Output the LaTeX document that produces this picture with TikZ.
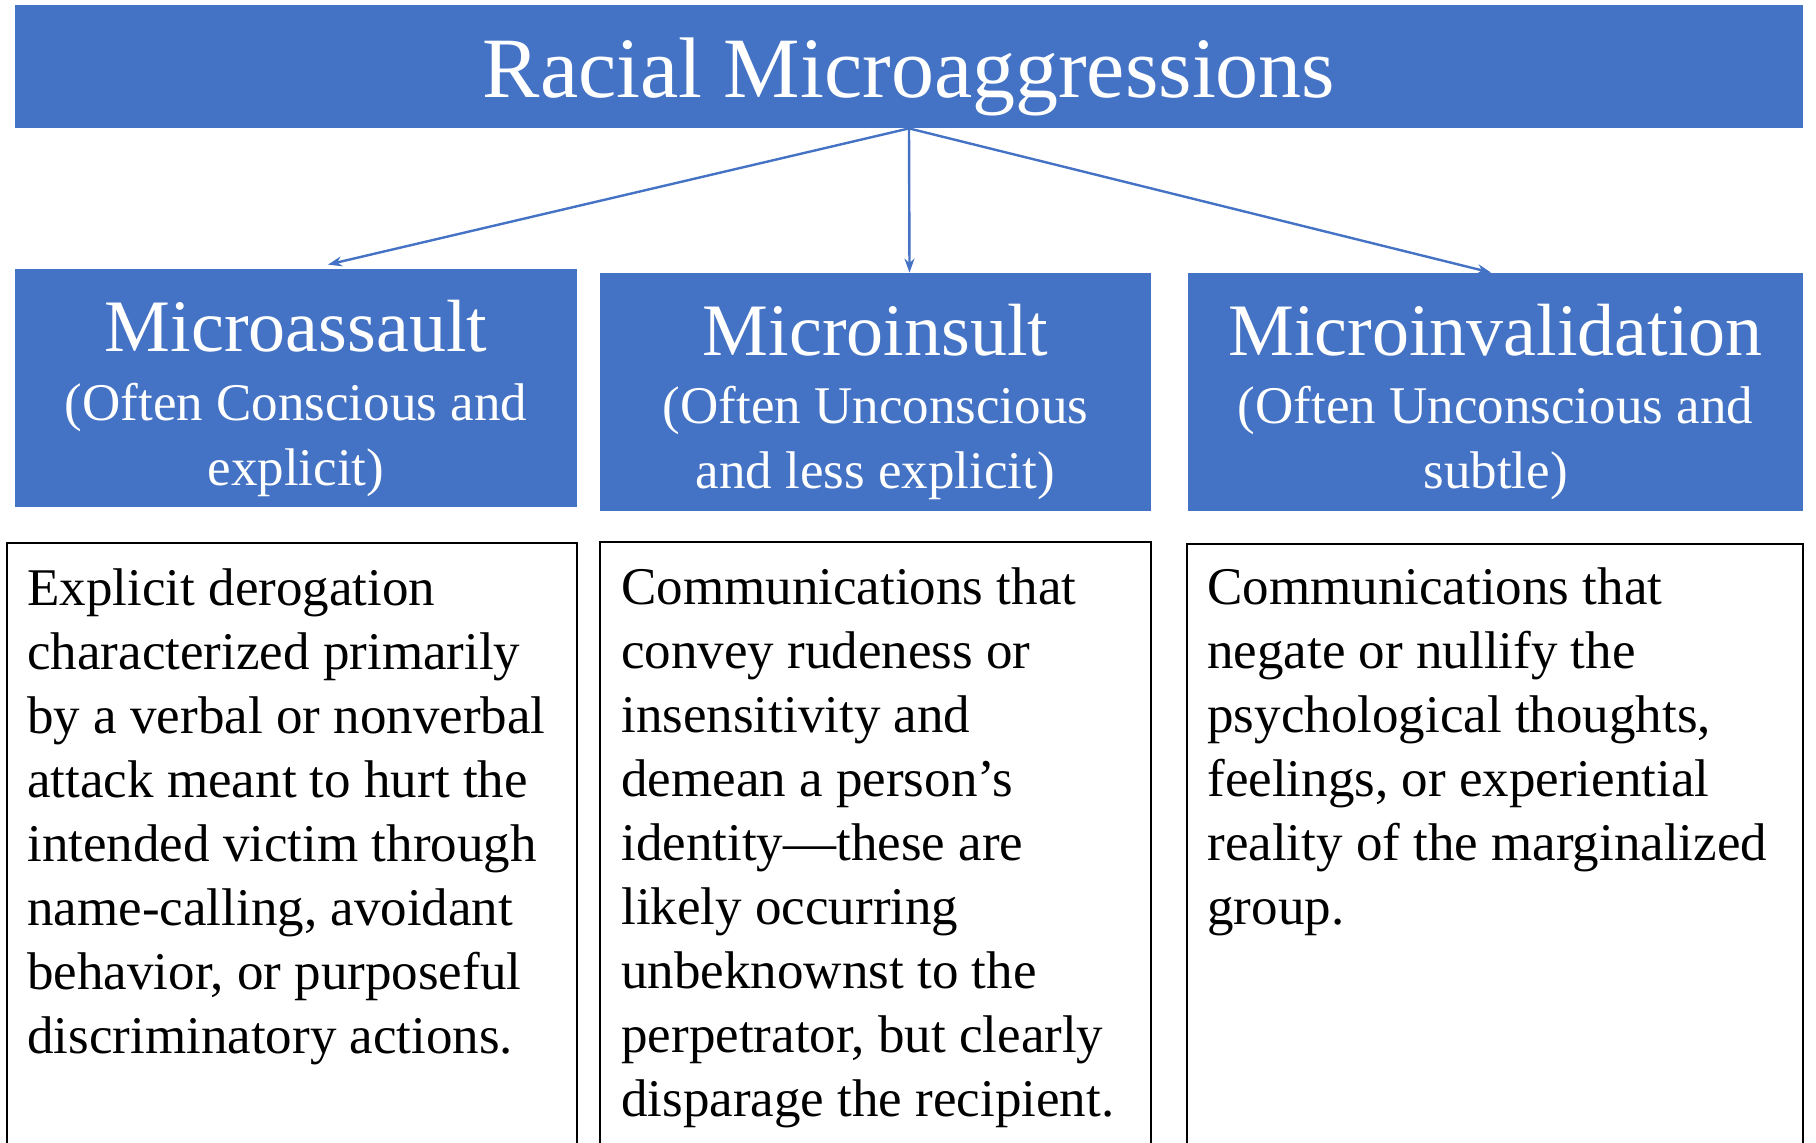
\documentclass[tikz,border=0pt]{standalone}
\usepackage{fontspec}
\setmainfont{Liberation Serif}
\usetikzlibrary{arrows.meta,fit}
\definecolor{officeblue}{HTML}{4472C4}
\tikzset{
  bluebox/.style={fill=officeblue, draw=none, inner sep=0pt},
  textbox/.style={draw=black, line width=0.6pt, inner sep=0pt},
  titletext/.style={text=white, font=\fontsize{43}{50}\selectfont, inner sep=0pt, anchor=base},
  headtext/.style={text=white, font=\fontsize{37}{44}\selectfont, inner sep=0pt, anchor=base},
  subtext/.style={text=white, font=\fontsize{26.5}{32.5}\selectfont, inner sep=0pt, anchor=base},
  bodytext/.style={text=black, font=\fontsize{26.5}{32}\selectfont, inner sep=0pt, anchor=base west},
  link/.style={draw=officeblue, line width=1.2pt, -{Stealth[length=7pt,width=5pt]}},
}
\begin{document}
\begin{tikzpicture}[x=0.5pt,y=-0.5pt]
  \useasboundingbox (0,0) rectangle (1816,1142);
  \clip (0,0) rectangle (1816,1142);

  % top banner
  \node[bluebox, fit={(15,5)(1803,128)}] (top) {};
  \node[titletext] (toplbl) at (909,97) {Racial Microaggressions};

  % category boxes
  \node[bluebox, fit={(15,269)(577,507)}] (assault) {};
  \node[bluebox, fit={(600,273)(1151,511)}] (insult) {};
  \node[bluebox, fit={(1188,273)(1803,511)}] (invalid) {};

  \node[headtext] (assaultlbl) at (296,351) {Microassault};
  \node[subtext] (assaultsub) at (296,420)
    {\begin{tabular}[t]{@{}c@{}}(Often Conscious and\\explicit)\end{tabular}};

  \node[headtext] (insultlbl) at (875.5,355) {Microinsult};
  \node[subtext] (insultsub) at (875.5,423.5)
    {\begin{tabular}[t]{@{}c@{}}(Often Unconscious\\and less explicit)\end{tabular}};

  \node[headtext] (invalidlbl) at (1495.5,355) {Microinvalidation};
  \node[subtext] (invalidsub) at (1495.5,423.5)
    {\begin{tabular}[t]{@{}c@{}}(Often Unconscious and\\subtle)\end{tabular}};

  % description boxes (run past the lower edge)
  \node[textbox, fit={(7,543)(577,1170)}] (assaultdesc) {};
  \node[textbox, fit={(600,542)(1151,1170)}] (insultdesc) {};
  \node[textbox, fit={(1187,544)(1803,1170)}] (invaliddesc) {};

  \node[bodytext] (assaulttxt) at (27,605.6)
    {\begin{tabular}[t]{@{}l@{}}
      Explicit derogation\\
      characterized primarily\\
      by a verbal or nonverbal\\
      attack meant to hurt the\\
      intended victim through\\
      name-calling, avoidant\\
      behavior, or purposeful\\
      discriminatory actions.
    \end{tabular}};

  \node[bodytext] (insulttxt) at (621,604.4)
    {\begin{tabular}[t]{@{}l@{}}
      Communications that\\
      convey rudeness or\\
      insensitivity and\\
      demean a person’s\\
      identity—these are\\
      likely occurring\\
      unbeknownst to the\\
      perpetrator, but clearly\\
      disparage the recipient.
    \end{tabular}};

  \node[bodytext] (invalidtxt) at (1207,604.4)
    {\begin{tabular}[t]{@{}l@{}}
      Communications that\\
      negate or nullify the\\
      psychological thoughts,\\
      feelings, or experiential\\
      reality of the marginalized\\
      group.
    \end{tabular}};

  % connectors
  \draw[link] (top.south) -- ([xshift=16pt,yshift=2pt]assault.north);
  \draw[link] (top.south) -- ([xshift=17pt]insult.north);
  \draw[link] (top.south) -- ([xshift=-2.2pt]invalid.north);
\end{tikzpicture}
\end{document}
